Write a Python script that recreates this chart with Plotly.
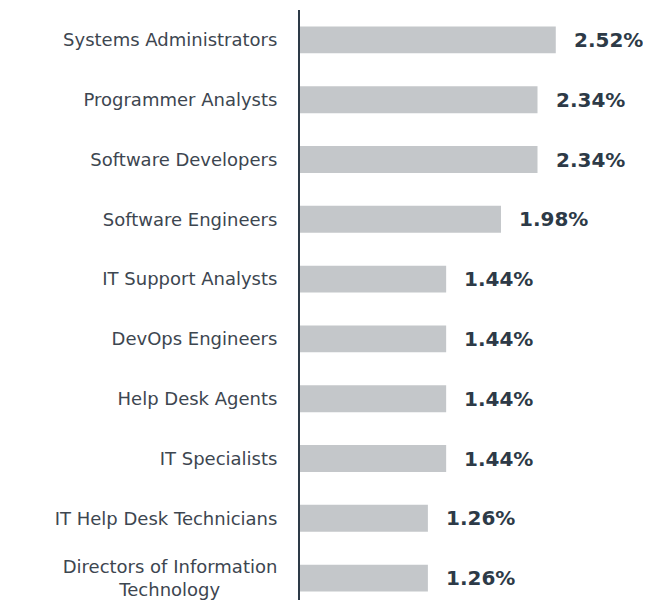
import plotly.graph_objects as go

categories = [
    "Systems Administrators",
    "Programmer Analysts",
    "Software Developers",
    "Software Engineers",
    "IT Support Analysts",
    "DevOps Engineers",
    "Help Desk Agents",
    "IT Specialists",
    "IT Help Desk Technicians",
    "Directors of Information<br>Technology" + "\u00a0" * 10,
]
values = [2.52, 2.34, 2.34, 1.98, 1.44, 1.44, 1.44, 1.44, 1.26, 1.26]
value_labels = [f"{v:.2f}%" for v in values]

fig = go.Figure()
fig.add_trace(go.Bar(
    x=values,
    y=categories,
    orientation="h",
    marker=dict(color="#c4c7ca", line=dict(width=0)),
    hoverinfo="skip",
))

for c, v, t in zip(categories, values, value_labels):
    fig.add_annotation(
        x=v, y=c, text=t, showarrow=False,
        xanchor="left", yanchor="middle", xshift=16,
        font=dict(family="DejaVu Sans", size=20, color="#2d3a47", weight="bold"),
    )

fig.update_layout(
    width=651, height=600,
    margin=dict(l=292, r=0, t=2, b=0),
    paper_bgcolor="white", plot_bgcolor="white",
    bargap=0.55,
    showlegend=False,
    font=dict(family="DejaVu Sans", size=18, color="#3d4650"),
)
fig.update_xaxes(
    range=[0, 3.537], visible=False, showgrid=False, zeroline=False,
    automargin=False,
)
fig.update_yaxes(
    range=[9.5, -0.5],
    automargin=False,
    showgrid=False, zeroline=False,
    showline=True, linecolor="#2d3a47", linewidth=2,
    ticks="", ticklabelstandoff=17,
    tickfont=dict(family="DejaVu Sans", size=18, color="#3d4650"),
)

fig.write_html("out.html")
